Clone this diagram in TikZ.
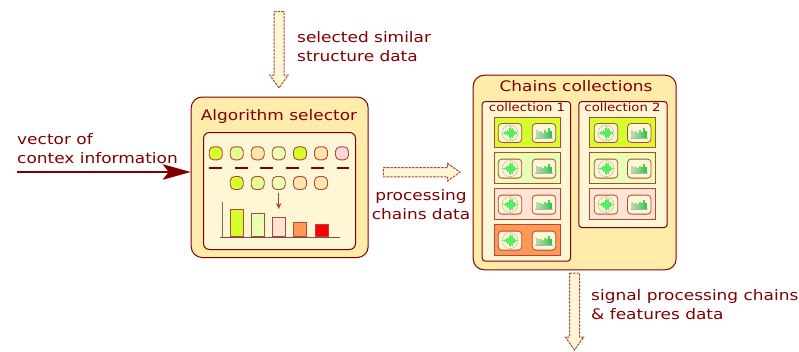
\documentclass[tikz,border=0pt]{standalone}
\usepackage{fontspec}
\setmainfont[FakeStretch=1.17]{DejaVu Sans}
\usetikzlibrary{arrows.meta,calc}
\definecolor{dred}{HTML}{800000}
\definecolor{boxgold}{HTML}{FFEBAA}
\definecolor{boxpale}{HTML}{FFF6D5}
\definecolor{cLime}{HTML}{D4FF2A}
\definecolor{cGreen}{HTML}{E0FF8C}
\definecolor{cLight}{HTML}{E9FFB4}
\definecolor{cSand}{HTML}{FFE5A8}
\definecolor{cPink}{HTML}{FFD5D5}
\definecolor{cSalmon}{HTML}{FFE4D5}
\definecolor{cOrange}{HTML}{FF9955}
\definecolor{soft}{HTML}{B2473A}
\definecolor{ringc}{HTML}{B9C9A0}
\definecolor{specA}{HTML}{BBD8AE}
\definecolor{specB}{HTML}{20C848}
\definecolor{waveg}{HTML}{50F060}
\tikzset{
  x=1pt,y=-1pt,
  lab/.style={text=dred,font=\fontsize{14.5}{19}\selectfont,align=left,inner sep=0pt,anchor=west},
  labc/.style={lab,align=center,anchor=center},
  panel/.style={draw=dred,line width=1pt,fill=boxgold,rounded corners=11pt,inner sep=0pt,anchor=north west},
  inner/.style={draw=dred,line width=1pt,fill=boxpale,rounded corners=6pt,inner sep=0pt,anchor=north west},
  title/.style={text=dred,font=\fontsize{14.5}{19}\selectfont,inner sep=0pt,anchor=base},
  subtitle/.style={text=dred,font=\fontsize{11.3}{15}\selectfont,inner sep=0pt,anchor=base},
  chip/.style={draw=soft,line width=0.9pt,rounded corners=4.5pt,minimum width=13pt,minimum height=13pt,inner sep=0pt},
  dashmark/.style={draw=dred,line width=1.1pt},
  barbox/.style={draw=soft,line width=0.9pt,inner sep=0pt,anchor=south west,minimum width=13pt},
  rowbox/.style={draw=soft,line width=0.9pt,inner sep=0pt,anchor=north west,minimum height=30.4pt},
  icon/.style={draw=soft,line width=0.8pt,fill=boxpale,rounded corners=3.5pt,inner sep=0pt,minimum width=23.5pt,minimum height=19pt},
  hollow/.style={draw=soft,fill=boxpale,line width=1pt,dash pattern=on 2.6pt off 1pt,line join=miter},
}
\newcommand{\wavegraph}[1]{%
  \draw[draw=ringc,line width=0.6pt] (#1) circle (8pt);
  \draw[draw=ringc,line width=0.4pt] ($(#1)+(-8,0)$) -- ($(#1)+(8,0)$);
  \foreach \dx/\h in {-6.5/0.7,-5.5/1.6,-4.5/1.2,-3.5/3,-2.5/2.2,-1.5/5,-0.5/6.8,0.5/4.2,1.5/5.2,2.5/2.6,3.5/2.2,4.5/1,5.5/0.6}{
    \fill[waveg] ($(#1)+(\dx,-\h)$) rectangle ($(#1)+(\dx+1,\h)$);
  }
}
\newcommand{\specgraph}[1]{%
  \foreach \dx/\h/\c in {-8/8/0,-6/6.5/10,-4/7/20,-2/5.5/32,0/8/45,2/6.5/60,4/10/75,6/7/95}{
    \fill[specB!\c!specA] ($(#1)+(\dx,5)$) rectangle ++(2,-\h);
  }
  \draw[gray!60,line width=0.4pt] ($(#1)+(-8.6,5)$) -- ($(#1)+(8.8,5)$);
}
% name, left x, width, top y, fill, icon-1 x, icon-2 x
\newcommand{\chainrow}[7]{%
  \node[rowbox,fill=#5,minimum width=#3 pt] (#1) at (#2,#4) {};
  \node[icon] (#1a) at (#6,#4+16.3) {};
  \node[icon] (#1b) at (#7,#4+16.3) {};
  \wavegraph{#1a}
  \specgraph{#1b}
}
% vertical hollow arrow
\newcommand{\downarrowbox}[3]{% top coordinate name, tip coordinate name, head length
  \draw[hollow] ($(#1)+(-5,0)$) -- ($(#1)+(5,0)$) -- ($(#2)+(5,-#3)$) -- ($(#2)+(9.2,-#3)$) -- (#2) -- ($(#2)+(-9.2,-#3)$) -- ($(#2)+(-5,-#3)$) -- cycle;
}
\begin{document}
\begin{tikzpicture}
\useasboundingbox (0,0) rectangle (799,351);
% algorithm selector
\node[panel,minimum width=177pt,minimum height=160.5pt] (alg) at (190.7,96.5) {};
\node[title] (algt) at (279,120.7) {Algorithm selector};
\node[inner,minimum width=152pt,minimum height=117pt] (algin) at (203,132) {};
% squares
\foreach \n/\x/\c in {1/215.7/cLime,2/236.7/cGreen,3/257.7/cSand,4/278.7/cLight,5/300/cLime,6/321/cSand,7/342/cPink}{
  \node[chip,fill=\c] (s\n) at (\x,153.3) {};
}
\foreach \n/\a/\b in {1/209.3/222.3,2/235/247.7,3/260.3/273.3,4/286/298.7,5/311.3/324,6/336.7/348.7}{
  \coordinate (da\n) at (\a,168);
  \coordinate (db\n) at (\b,168);
  \draw[dashmark] (da\n) -- (db\n);
}
\foreach \n/\x/\c in {1/236.7/cLime,2/257.7/cGreen,3/278.7/cLight,4/300/cSand,5/321/cSand}{
  \node[chip,fill=\c] (r\n) at (\x,183) {};
}
% bars
\coordinate (axo) at (222.3,237.3);
\coordinate (axt) at (222.3,202);
\coordinate (axl) at (220,237.3);
\coordinate (axr) at (340,237.3);
\node[barbox,fill=cLime,minimum height=27pt] (b1) at (230.3,237.3) {};
\node[barbox,fill=cLight,minimum height=23pt] (b2) at (251.3,237.3) {};
\node[barbox,fill=cSalmon,minimum height=19pt] (b3) at (272.3,237.3) {};
\node[barbox,fill=cOrange,minimum height=14.7pt] (b4) at (293.3,237.3) {};
\node[barbox,fill=red,minimum height=12.3pt] (b5) at (314.7,237.3) {};
\draw[gray!80!dred,line width=0.7pt] (axt) -- (axo);
\draw[gray!60!dred,line width=0.7pt] (axl) -- (axr);
\coordinate (pa) at (278.7,193.3);
\coordinate (pb) at (278.7,209);
\draw[soft,line width=0.9pt,-{Stealth[length=6pt,width=5.5pt,fill=dred]}] (pa) -- (pb);
% chains collections
\node[panel,minimum width=203pt,minimum height=194.6pt] (cha) at (472.7,74.7) {};
\node[title] (chat) at (576,91.7) {Chains collections};
\node[inner,rounded corners=3pt,minimum width=88.3pt,minimum height=159.7pt] (c1) at (481.7,101) {};
\node[inner,rounded corners=3pt,minimum width=88.4pt,minimum height=126pt] (c2) at (578.3,101) {};
\node[subtitle] (c1t) at (527,111.7) {collection 1};
\node[subtitle] (c2t) at (622.5,111.7) {collection 2};
\chainrow{ra}{494}{65.7}{116.7}{cLime}{510}{544}
\chainrow{rb}{494}{65.7}{152.3}{cLight}{510}{544}
\chainrow{rc}{494}{65.7}{188.3}{cSalmon}{510}{544}
\chainrow{rd}{494}{65.7}{224.3}{cOrange}{510}{544}
\chainrow{qa}{589.3}{66}{116.7}{cLime}{606}{639.3}
\chainrow{qb}{589.3}{66}{152.3}{cLight}{606}{639.3}
\chainrow{qc}{589.3}{66}{188.3}{cSalmon}{606}{639.3}
% labels
\node[lab] (l1) at (297,47) {selected similar\\structure data};
\node[lab] (l2) at (17,148.5) {vector of\\contex information};
\node[labc] (l3) at (421,205) {processing\\chains data};
\node[lab] (l4) at (591,305) {signal processing chains\\\& features data};
% arrows
\coordinate (vs) at (17.3,172);
\draw[dred,line width=1.5pt,-{Stealth[length=28pt,width=15.5pt,inset=6pt]}] (vs) -- (alg.west |- vs);
\coordinate (tat) at (279,11.7);
\coordinate (tab) at (279,88);
\downarrowbox{tat}{tab}{13}
\coordinate (bat) at (574.5,273);
\coordinate (bab) at (574.5,350);
\downarrowbox{bat}{bab}{13}
\coordinate (mal) at (383.3,172.2);
\coordinate (mar) at (460,172.2);
\draw[hollow] ($(mal)+(0,-4.6)$) -- ($(mar)+(-12.5,-4.6)$) -- ($(mar)+(-12.5,-8.9)$) -- (mar) -- ($(mar)+(-12.5,8.9)$) -- ($(mar)+(-12.5,4.6)$) -- ($(mal)+(0,4.6)$) -- cycle;
\end{tikzpicture}
\end{document}
